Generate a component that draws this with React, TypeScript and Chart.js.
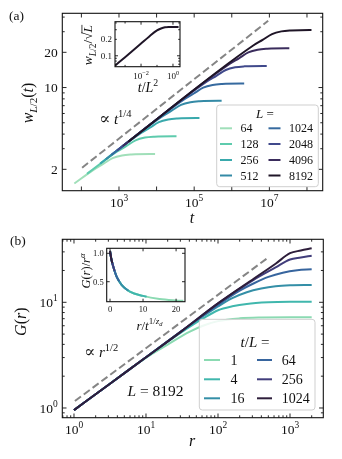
import React, { useEffect, useRef } from "react";
import { Chart, registerables } from "chart.js";

Chart.register(...registerables);

const FONT = '"Liberation Serif", "DejaVu Serif", serif';
const INK = "#111111";

// ---------------- Panel (a): w_{L/2}(t) ----------------
const sizesA = ["64", "128", "256", "512", "1024", "2048", "4096", "8192"];
const colorsA = ["#a0dfb9", "#5ecbad", "#39a9ac", "#348aa6", "#366a9f", "#40498b", "#3a2c5c", "#1f1527"];
const tA64 = [65, 214, 380, 676, 1202, 2138, 6761, 9120];
const wA64 = [1.514, 1.991, 2.223, 2.495, 2.63, 2.679, 2.704, 2.704];
const tA128 = [141, 871, 1549, 2754, 4898, 8710, 27542, 33884];
const wA128 = [1.83, 2.825, 3.155, 3.54, 3.733, 3.802, 3.837, 3.837];
const tA256 = [316, 3631, 6457, 11482, 20417, 36308, 114815, 138038];
const wA256 = [2.239, 4.036, 4.508, 5.058, 5.333, 5.433, 5.483, 5.483];
const tA512 = [447, 14125, 25119, 44668, 79433, 141254, 446684, 537032];
const wA512 = [2.441, 5.675, 6.339, 7.112, 7.499, 7.638, 7.709, 7.709];
const tA1024 = [631, 54954, 97724, 173780, 309030, 549541, 1737801, 2137962];
const wA1024 = [2.661, 7.962, 8.892, 9.977, 10.52, 10.72, 10.81, 10.81];
const tA2048 = [891, 218776, 389045, 691831, 1230269, 2187762, 6918310, 8511380];
const wA2048 = [2.9, 11.27, 12.59, 14.13, 14.89, 15.17, 15.31, 15.31];
const tA4096 = [1259, 870964, 1548817, 2754229, 4897788, 8709636, 27542287, 33884416];
const wA4096 = [3.162, 15.92, 17.78, 19.95, 21.04, 21.43, 21.63, 21.63];
const tA8192 = [1778, 3715352, 6606934, 11748976, 20892961, 37153523, 117489755, 131825674];
const wA8192 = [3.446, 22.86, 25.53, 28.64, 30.2, 30.76, 31.05, 31.05];
const seriesA = [
  [tA64, wA64], [tA128, wA128], [tA256, wA256], [tA512, wA512],
  [tA1024, wA1024], [tA2048, wA2048], [tA4096, wA4096], [tA8192, wA8192],
];
const dashAT = [104.5, 9.3e6];
const dashAW = [2.065, 37.2];
const xRangeA = [31.05, 2.62e8];
const yRangeA = [1.313, 43.1];
const xMajorA = [1e2, 1e3, 1e4, 1e5, 1e6, 1e7, 1e8];
const xLabelA = [1e3, 1e5, 1e7];
const xLabelExpA = ["3", "5", "7"];
const yMajorA = [2, 10, 20];
const yMinorA = [3, 4, 5, 6, 7, 8, 9, 30, 40];
const yLabelA = ["2", "10", "20"];

// inset (a): w/sqrt(L) vs t/L^2
const xInA = [2.34e-4, 1e-3, 1e-2, 3.16e-2, 0.1, 0.178, 0.316, 0.562, 1.0, 2.24];
const yInA = [0.0658, 0.0944, 0.168, 0.224, 0.2917, 0.316, 0.3327, 0.3373, 0.338, 0.338];
const xRangeInA = [2.34e-4, 2.75];
const yRangeInA = [0.0631, 0.421];
const xMajorInA = [1e-2, 1];
const xMinorInA = [1e-3, 1e-1];
const xLabelExpInA = ["\u22122", "0"];
const yMajorInA = [0.1];
const yMinorInA = [0.07, 0.08, 0.09, 0.2, 0.3, 0.4];
const yLabelInA = [0.1, 0.2];
const yLabelTxtInA = ["0.1", "0.2"];

// ---------------- Panel (b): G(r) ----------------
const ratiosB = ["1", "4", "16", "64", "256", "1024"];
const colorsB = ["#8bdab2", "#40b7ad", "#348fa7", "#37659e", "#413d7b", "#2e1e3b"];
const rB1 = [1, 3.16, 10, 20, 40, 63, 100, 200, 400, 1000, 2000];
const gB1 = [0.955, 1.698, 2.985, 3.981, 5.248, 6.026, 6.637, 7.047, 7.178, 7.211, 7.211];
const rB4 = [1, 3.16, 10, 31.6, 63, 100, 158, 251, 501, 1000, 2000];
const gB4 = [0.955, 1.698, 3.02, 5.248, 7.079, 8.414, 9.162, 9.661, 10.0, 10.12, 10.14];
const rB16 = [1, 3.16, 10, 31.6, 100, 158, 251, 398, 631, 1000, 2000];
const gB16 = [0.955, 1.698, 3.02, 5.37, 9.12, 10.96, 12.45, 13.49, 14.19, 14.49, 14.59];
const rB64 = [1, 3.16, 10, 31.6, 100, 200, 316, 501, 794, 1259, 2000];
const gB64 = [0.955, 1.698, 3.02, 5.37, 9.441, 12.88, 15.14, 17.38, 19.05, 20.09, 20.51];
const rB256 = [1, 3.16, 10, 31.6, 100, 316, 631, 1000, 1413, 2000];
const gB256 = [0.955, 1.698, 3.02, 5.37, 9.772, 16.41, 21.38, 25.41, 26.55, 27.61];
const rB1024 = [1, 3.16, 10, 31.6, 100, 316, 631, 1000, 1413, 2000];
const gB1024 = [0.955, 1.698, 3.02, 5.37, 9.772, 16.79, 23.17, 29.17, 30.9, 32.43];
const seriesB = [
  [rB1, gB1], [rB4, gB4], [rB16, gB16], [rB64, gB64], [rB256, gB256], [rB1024, gB1024],
];
const dashBR = [1.03, 501];
const dashBG = [1.165, 26.6];
const xRangeB = [0.688, 2900];
const yRangeB = [0.8095, 39.45];
const xMajorB = [1, 10, 100, 1000];
const xMinorB = [0.7, 0.8, 0.9, 2, 3, 4, 5, 6, 7, 8, 9, 20, 30, 40, 50, 60, 70, 80, 90,
  200, 300, 400, 500, 600, 700, 800, 900, 2000];
const xLabelExpB = ["0", "1", "2", "3"];
const yMajorB = [1, 10];
const yMinorB = [0.9, 2, 3, 4, 5, 6, 7, 8, 9, 20, 30];
const yLabelExpB = ["0", "1"];

// inset (b): G(r)/r^alpha vs r/t^{1/z_d}
const xInB1 = [0.01, 0.4, 1.0, 2.0, 3.5, 6, 10, 15, 20, 22.2];
const yInB1 = [1.04, 0.9, 0.764, 0.59, 0.445, 0.325, 0.25, 0.195, 0.17, 0.163];
const xInB4 = [0.005, 0.4, 1.0, 2.0, 3.5, 6, 10, 11.1];
const yInB4 = [1.04, 0.9, 0.764, 0.59, 0.445, 0.325, 0.25, 0.237];
const xInB16 = [0.003, 0.4, 1.0, 2.0, 3.5, 5.55];
const yInB16 = [1.04, 0.9, 0.764, 0.59, 0.445, 0.34];
const xInB64 = [0.001, 0.4, 1.0, 2.0, 2.78];
const yInB64 = [1.04, 0.9, 0.764, 0.59, 0.51];
const xInB256 = [0.0005, 0.4, 1.0, 1.39];
const yInB256 = [1.04, 0.9, 0.764, 0.69];
const xInB1024 = [0.0003, 0.4, 0.69];
const yInB1024 = [1.04, 0.9, 0.83];
const seriesInB = [
  [xInB1, yInB1], [xInB4, yInB4], [xInB16, yInB16], [xInB64, yInB64], [xInB256, yInB256], [xInB1024, yInB1024],
];
const xRangeInB = [-1, 22.7];
const yRangeInB = [0.148, 1.088];
const xMajorInB = [0, 10, 20];
const yMajorInB = [0.5, 1.0];
const yLabelTxtInB = ["0.5", "1.0"];

// ---------------- text helpers ----------------
type Seg = { t: string; i?: boolean; s?: number; dy?: number; ov?: boolean; f?: string };
const SUP = -0.42;
const SUB = 0.25;

function fontOf(size: number, seg: Seg) {
  return `${seg.i ? "italic " : ""}${(size * (seg.s ?? 1)).toFixed(2)}px ${seg.f ?? FONT}`;
}
function mathWidth(ctx: CanvasRenderingContext2D, segs: Seg[], size: number) {
  let w = 0;
  for (const s of segs) {
    ctx.font = fontOf(size, s);
    w += ctx.measureText(s.t).width;
  }
  return w;
}
function drawMath(ctx: CanvasRenderingContext2D, segs: Seg[], x: number, y: number, size: number,
  align: "left" | "center" | "right" = "left") {
  const w = mathWidth(ctx, segs, size);
  let cx = align === "left" ? x : align === "center" ? x - w / 2 : x - w;
  ctx.save();
  ctx.fillStyle = INK;
  ctx.strokeStyle = INK;
  ctx.textAlign = "left";
  ctx.textBaseline = "alphabetic";
  for (const s of segs) {
    ctx.font = fontOf(size, s);
    const sw = ctx.measureText(s.t).width;
    const yy = y + (s.dy ?? 0) * size;
    ctx.fillText(s.t, cx, yy);
    if (s.ov) {
      ctx.lineWidth = Math.max(0.7, size * 0.06);
      ctx.beginPath();
      ctx.moveTo(cx - 1, yy - size * 0.78);
      ctx.lineTo(cx + sw, yy - size * 0.78);
      ctx.stroke();
    }
    cx += sw;
  }
  ctx.restore();
}
function drawMathRot(ctx: CanvasRenderingContext2D, segs: Seg[], cx: number, cy: number, size: number) {
  ctx.save();
  ctx.translate(cx, cy);
  ctx.rotate(-Math.PI / 2);
  drawMath(ctx, segs, 0, size * 0.33, size, "center");
  ctx.restore();
}
const pow10 = (e: string): Seg[] => [{ t: "10" }, { t: e, s: 0.7, dy: SUP }];
const PROP: Seg = { t: "\u221D", f: '"DejaVu Serif", serif', s: 1.1, dy: 0.02 };
const GAP: Seg = { t: " " };

type Frame = {
  xMajor: number[]; xMinor: number[]; yMajor: number[]; yMinor: number[];
  majorLen: number; minorLen: number;
  xLabels: { v: number; segs: Seg[] }[];
  yLabels: { v: number; segs: Seg[] }[];
  tickFont: number; xLabelDy: number; yLabelDx: number;
};

function drawFrame(chart: any, f: Frame) {
  const ctx: CanvasRenderingContext2D = chart.ctx;
  const a = chart.chartArea;
  const xs = chart.scales.x;
  const ys = chart.scales.y;
  ctx.save();
  ctx.strokeStyle = INK;
  ctx.lineWidth = 0.9;
  const tx = (v: number, len: number) => {
    const p = xs.getPixelForValue(v);
    if (p < a.left - 0.5 || p > a.right + 0.5) return;
    ctx.beginPath();
    ctx.moveTo(p, a.bottom); ctx.lineTo(p, a.bottom - len);
    ctx.moveTo(p, a.top); ctx.lineTo(p, a.top + len);
    ctx.stroke();
  };
  const ty = (v: number, len: number) => {
    const p = ys.getPixelForValue(v);
    if (p < a.top - 0.5 || p > a.bottom + 0.5) return;
    ctx.beginPath();
    ctx.moveTo(a.left, p); ctx.lineTo(a.left + len, p);
    ctx.moveTo(a.right, p); ctx.lineTo(a.right - len, p);
    ctx.stroke();
  };
  f.xMajor.forEach((v) => tx(v, f.majorLen));
  f.xMinor.forEach((v) => tx(v, f.minorLen));
  f.yMajor.forEach((v) => ty(v, f.majorLen));
  f.yMinor.forEach((v) => ty(v, f.minorLen));
  ctx.lineWidth = 1.1;
  ctx.strokeRect(a.left, a.top, a.right - a.left, a.bottom - a.top);
  ctx.restore();
  f.xLabels.forEach((l) => drawMath(ctx, l.segs, xs.getPixelForValue(l.v), a.bottom + f.xLabelDy, f.tickFont, "center"));
  f.yLabels.forEach((l) => drawMath(ctx, l.segs, a.left - f.yLabelDx, ys.getPixelForValue(l.v) + f.tickFont * 0.34, f.tickFont, "right"));
}

type LegItem = { label: string; color: string; x0: number; x1: number; tx: number; y: number };
function drawLegend(ctx: CanvasRenderingContext2D, box: number[], title: Seg[], titleX: number, titleY: number,
  items: LegItem[], size: number, titleSize: number) {
  const [l, t, r, b] = box;
  ctx.save();
  ctx.beginPath();
  (ctx as any).roundRect(l, t, r - l, b - t, 3);
  ctx.fillStyle = "rgba(255,255,255,0.85)";
  ctx.fill();
  ctx.strokeStyle = "#cfcfcf";
  ctx.lineWidth = 1;
  ctx.stroke();
  ctx.lineWidth = 2;
  items.forEach((it) => {
    ctx.strokeStyle = it.color;
    ctx.beginPath();
    ctx.moveTo(it.x0, it.y);
    ctx.lineTo(it.x1, it.y);
    ctx.stroke();
  });
  ctx.restore();
  drawMath(ctx, title, titleX, titleY, titleSize, "center");
  items.forEach((it) => drawMath(ctx, [{ t: it.label }], it.tx, it.y + size * 0.34, size, "left"));
}

const pts = (xs: number[], ys: number[]) => xs.map((x, i) => ({ x, y: ys[i] }));

function baseOptions(xType: string, yType: string, xr: number[], yr: number[], padding: any) {
  return {
    responsive: false,
    animation: false as const,
    devicePixelRatio: 1,
    events: [] as any[],
    layout: { padding },
    plugins: { legend: { display: false }, tooltip: { enabled: false }, title: { display: false } },
    elements: {
      point: { radius: 0 },
      line: { borderWidth: 2, cubicInterpolationMode: "monotone" as const, borderCapStyle: "butt" as const },
    },
    scales: {
      x: { type: xType, min: xr[0], max: xr[1], display: false },
      y: { type: yType, min: yr[0], max: yr[1], display: false },
    },
  };
}

const whiteBox = {
  id: "whiteBox",
  beforeDraw(chart: any) {
    const a = chart.chartArea;
    chart.ctx.save();
    chart.ctx.fillStyle = "#ffffff";
    chart.ctx.fillRect(a.left, a.top, a.right - a.left, a.bottom - a.top);
    chart.ctx.restore();
  },
};

function configA(): any {
  const datasets: any[] = [];
  for (let k = seriesA.length - 1; k >= 0; k--) {
    datasets.push({ data: pts(seriesA[k][0], seriesA[k][1]), borderColor: colorsA[k] });
  }
  datasets.push({ data: pts(dashAT, dashAW), borderColor: "#858585", borderDash: [7.5, 3.5] });
  return {
    type: "line",
    data: { datasets },
    options: baseOptions("logarithmic", "logarithmic", xRangeA, yRangeA, { left: 62.3, right: 19.3, top: 13.3, bottom: 38.3 }),
    plugins: [{
      id: "decorA",
      afterDraw(chart: any) {
        const ctx = chart.ctx;
        drawFrame(chart, {
          xMajor: xMajorA, xMinor: [], yMajor: yMajorA, yMinor: yMinorA, majorLen: 4.2, minorLen: 2.4,
          xLabels: xLabelA.map((v, i) => ({ v, segs: pow10(xLabelExpA[i]) })),
          yLabels: yMajorA.map((v, i) => ({ v, segs: [{ t: yLabelA[i] }] })),
          tickFont: 13.5, xLabelDy: 16, yLabelDx: 4.5,
        });
        drawMath(ctx, [{ t: "(a)" }], 9, 20, 13.5);
        drawMathRot(ctx, [{ t: "w", i: true }, { t: "L", i: true, s: 0.7, dy: SUB }, { t: "/2", s: 0.7, dy: SUB },
          { t: "(" }, { t: "t", i: true }, { t: ")" }], 28, 103, 16);
        drawMath(ctx, [{ t: "t", i: true }], 192, 223, 16, "center");
        drawMath(ctx, [PROP, GAP, { t: "t", i: true }, { t: "1/4", s: 0.7, dy: SUP }], 99, 123.5, 15);
        const rowsY = [128.3, 144, 160, 175.5];
        const items: LegItem[] = sizesA.map((s, k) => {
          const col = k < 4 ? 0 : 1;
          return {
            label: s, color: colorsA[k],
            x0: col ? 268.5 : 220, x1: col ? 280.5 : 232, tx: col ? 289 : 240.5, y: rowsY[k % 4],
          };
        });
        drawLegend(ctx, [216.7, 105, 318.3, 186.7], [{ t: "L", i: true }, { t: " =" }], 265, 117.5, items, 12, 13);
      },
    }],
  };
}

function configInA(): any {
  return {
    type: "line",
    data: { datasets: [{ data: pts(xInA, yInA), borderColor: colorsA[7] }] },
    options: baseOptions("logarithmic", "logarithmic", xRangeInA, yRangeInA, { left: 45, right: 10, top: 9.7, bottom: 33.3 }),
    plugins: [whiteBox, {
      id: "decorInA",
      afterDraw(chart: any) {
        const ctx = chart.ctx;
        drawFrame(chart, {
          xMajor: xMajorInA, xMinor: xMinorInA, yMajor: yMajorInA, yMinor: yMinorInA, majorLen: 3, minorLen: 1.8,
          xLabels: xMajorInA.map((v, i) => ({ v, segs: pow10(xLabelExpInA[i]) })),
          yLabels: yLabelInA.map((v, i) => ({ v, segs: [{ t: yLabelTxtInA[i] }] })),
          tickFont: 9, xLabelDy: 12, yLabelDx: 3,
        });
        drawMathRot(ctx, [{ t: "w", i: true }, { t: "L", i: true, s: 0.7, dy: SUB }, { t: "/2", s: 0.7, dy: SUB },
          { t: "/" }, { t: "\u221A" }, { t: "L", i: true, ov: true }], 18, 33, 13.5);
        drawMath(ctx, [{ t: "t", i: true }, { t: "/" }, { t: "L", i: true }, { t: "2", s: 0.7, dy: SUP }], 78, 80, 14, "center");
      },
    }],
  };
}

function configB(): any {
  const datasets: any[] = [];
  for (let k = seriesB.length - 1; k >= 0; k--) {
    datasets.push({ data: pts(seriesB[k][0], seriesB[k][1]), borderColor: colorsB[k] });
  }
  datasets.push({ data: pts(dashBR, dashBG), borderColor: "#858585", borderDash: [7.5, 3.5] });
  const T = 229;
  return {
    type: "line",
    data: { datasets },
    options: baseOptions("logarithmic", "logarithmic", xRangeB, yRangeB, { left: 62.3, right: 18.7, top: 10.3, bottom: 41.3 }),
    plugins: [{
      id: "decorB",
      afterDraw(chart: any) {
        const ctx = chart.ctx;
        drawFrame(chart, {
          xMajor: xMajorB, xMinor: xMinorB, yMajor: yMajorB, yMinor: yMinorB, majorLen: 4.2, minorLen: 2.4,
          xLabels: xMajorB.map((v, i) => ({ v, segs: pow10(xLabelExpB[i]) })),
          yLabels: yMajorB.map((v, i) => ({ v, segs: pow10(yLabelExpB[i]) })),
          tickFont: 13.5, xLabelDy: 16, yLabelDx: 4.5,
        });
        drawMath(ctx, [{ t: "(b)" }], 10, 245 - T, 13.5);
        drawMathRot(ctx, [{ t: "G", i: true }, { t: "(" }, { t: "r", i: true }, { t: ")" }], 21, 321.7 - T, 16);
        drawMath(ctx, [{ t: "r", i: true }], 192, 445.5 - T, 16, "center");
        drawMath(ctx, [PROP, GAP, { t: "r", i: true }, { t: "1/2", s: 0.7, dy: SUP }], 84, 357 - T, 15);
        drawMath(ctx, [{ t: "L", i: true }, { t: " = 8192" }], 127.5, 396 - T, 15.5);
        const rowsY = [360, 379.3, 398.3];
        const items: LegItem[] = ratiosB.map((s, k) => {
          const col = k < 3 ? 0 : 1;
          return {
            label: s, color: colorsB[k],
            x0: col ? 257 : 204, x1: col ? 272 : 220, tx: col ? 281.7 : 230.5, y: rowsY[k % 3] - T,
          };
        });
        drawLegend(ctx, [199.3, 319.3 - T, 315, 410 - T], [{ t: "t", i: true }, { t: "/" }, { t: "L", i: true }, { t: " =" }],
          255, 347 - T, items, 14, 15);
      },
    }],
  };
}

function configInB(): any {
  const datasets: any[] = [];
  for (let k = seriesInB.length - 1; k >= 0; k--) {
    datasets.push({ data: pts(seriesInB[k][0], seriesInB[k][1]), borderColor: colorsB[k] });
  }
  return {
    type: "line",
    data: { datasets },
    options: baseOptions("linear", "linear", xRangeInB, yRangeInB, { left: 31.7, right: 10, top: 8.3, bottom: 33.3 }),
    plugins: [whiteBox, {
      id: "decorInB",
      afterDraw(chart: any) {
        const ctx = chart.ctx;
        drawFrame(chart, {
          xMajor: xMajorInB, xMinor: [], yMajor: yMajorInB, yMinor: [], majorLen: 3, minorLen: 1.8,
          xLabels: xMajorInB.map((v) => ({ v, segs: [{ t: String(v) }] })),
          yLabels: yMajorInB.map((v, i) => ({ v, segs: [{ t: yLabelTxtInB[i] }] })),
          tickFont: 8.5, xLabelDy: 10.5, yLabelDx: 3,
        });
        drawMathRot(ctx, [{ t: "G", i: true }, { t: "(" }, { t: "r", i: true }, { t: ")/" }, { t: "r", i: true },
          { t: "\u03B1", i: true, s: 0.7, dy: SUP }], 11, 31, 12.5);
        drawMath(ctx, [{ t: "r", i: true }, { t: "/" }, { t: "t", i: true }, { t: "1/", s: 0.7, dy: SUP },
          { t: "z", i: true, s: 0.7, dy: SUP }, { t: "d", i: true, s: 0.5, dy: -0.3 }], 74.5, 89.5, 13, "center");
      },
    }],
  };
}

export default function App() {
  const ra = useRef<HTMLCanvasElement>(null);
  const rb = useRef<HTMLCanvasElement>(null);
  const ria = useRef<HTMLCanvasElement>(null);
  const rib = useRef<HTMLCanvasElement>(null);
  useEffect(() => {
    const charts: Chart[] = [];
    charts.push(new Chart(ra.current as HTMLCanvasElement, configA()));
    charts.push(new Chart(rb.current as HTMLCanvasElement, configB()));
    charts.push(new Chart(ria.current as HTMLCanvasElement, configInA()));
    charts.push(new Chart(rib.current as HTMLCanvasElement, configInB()));
    return () => charts.forEach((c) => c.destroy());
  }, []);
  return (
    <div style={{ position: "absolute", left: 0, top: 0, width: 342, height: 459, background: "#ffffff", overflow: "hidden" }}>
      <canvas ref={ra} width={342} height={229} style={{ position: "absolute", left: 0, top: 0 }} />
      <canvas ref={rb} width={342} height={230} style={{ position: "absolute", left: 0, top: 229 }} />
      <canvas ref={ria} width={120} height={88} style={{ position: "absolute", left: 70, top: 12 }} />
      <canvas ref={rib} width={120} height={95} style={{ position: "absolute", left: 75, top: 240 }} />
    </div>
  );
}
